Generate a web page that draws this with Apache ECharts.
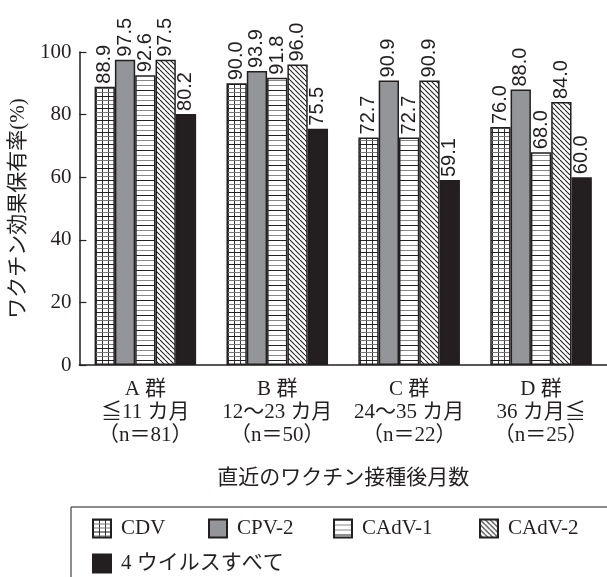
<!DOCTYPE html>
<html><head><meta charset="utf-8">
<script src="https://cdn.jsdelivr.net/npm/echarts@6/dist/echarts.min.js"></script>
<style>html,body{margin:0;padding:0;background:#fff}#c{width:607px;height:577px}</style>
</head><body><div id="c"></div>
<script>
const categories = ['A 群\n≦11 カ月\n（n＝81）','B 群\n12〜23 カ月\n（n＝50）','C 群\n24〜35 カ月\n（n＝22）','D 群\n36 カ月≦\n（n＝25）'];
const seriesNames = ['CDV','CPV-2','CAdV-1','CAdV-2','4 ウイルスすべて'];
const cdv = [88.9, 90.0, 72.7, 76.0];
const cpv2 = [97.5, 93.9, 90.9, 88.0];
const cadv1 = [92.6, 91.8, 72.7, 68.0];
const cadv2 = [97.5, 96.0, 90.9, 84.0];
const all4 = [80.2, 75.5, 59.1, 60.0];
const yTicks = [0, 20, 40, 60, 80, 100];

function pat(w, h, draw) {
  const c = document.createElement('canvas');
  c.width = w; c.height = h;
  const g = c.getContext('2d');
  g.fillStyle = '#fff'; g.fillRect(0, 0, w, h);
  draw(g);
  return { image: c, repeat: 'repeat' };
}
const gridPat = pat(6, 12, g => {
  g.fillStyle = '#333'; g.fillRect(0, 0, 1, 12);
  g.fillStyle = '#222'; g.fillRect(0, 0, 6, 1);
  g.fillStyle = '#777'; g.fillRect(0, 4, 6, 1); g.fillRect(0, 8, 6, 1);
});
const hPat = pat(4, 15, g => {
  g.fillStyle = '#222'; g.fillRect(0, 0, 4, 1);
  g.fillStyle = '#888'; g.fillRect(0, 5, 4, 1); g.fillRect(0, 10, 4, 1);
});
const dPat = pat(5, 5, g => {
  g.strokeStyle = '#222'; g.lineWidth = 1.1;
  for (const k of [-5, 0, 5]) { g.beginPath(); g.moveTo(k, 0); g.lineTo(k + 5, 5); g.stroke(); }
});
const fills = [gridPat, '#939598', hPat, dPat, '#231f20'];
const dataSets = [cdv, cpv2, cadv1, cadv2, all4];

const serif = '"Liberation Serif", "Noto Sans CJK JP", serif';
const chart = echarts.init(document.getElementById('c'), null, { renderer: 'canvas' });

const series = seriesNames.map((n, i) => ({
  name: n, type: 'bar', data: dataSets[i],
  barGap: '0%', barCategoryGap: '23%',
  itemStyle: { color: fills[i], borderColor: '#231f20', borderWidth: 1.5 },
  label: {
    show: true, position: 'top', rotate: 90, align: 'left', verticalAlign: 'middle', distance: 3,
    fontFamily: '"Liberation Sans", Arial, sans-serif', fontSize: 20, color: '#231f20',
    formatter: p => p.value.toFixed(1)
  },
  emphasis: { disabled: true }
}));

const legendLefts = [92, 208, 333, 479, 92];
const legendTops = [518, 518, 518, 518, 553];
const legends = seriesNames.map((n, i) => ({
  data: [n], left: legendLefts[i], top: legendTops[i], padding: 0,
  itemWidth: 18, itemHeight: 18, icon: 'rect',
  textStyle: { fontFamily: serif, fontSize: 21, color: '#231f20', padding: [0, 0, 0, 5] },
  selectedMode: false
}));

chart.setOption({
  animation: false,
  backgroundColor: '#fff',
  grid: { left: 71, right: 0, top: 52, bottom: 212 },
  legend: legends,
  xAxis: {
    type: 'category', data: categories,
    name: '直近のワクチン接種後月数', nameLocation: 'middle', nameGap: 103,
    nameTextStyle: { fontFamily: serif, fontSize: 21, color: '#231f20' },
    axisLine: { lineStyle: { color: '#231f20', width: 1.5 } },
    axisTick: { inside: true, length: 7, lineStyle: { color: '#231f20', width: 1.2 } },
    axisLabel: { interval: 0, fontFamily: serif, fontSize: 21, color: '#231f20', lineHeight: 23, margin: 13 }
  },
  yAxis: {
    type: 'value', min: 0, max: 100, interval: 20,
    name: 'ワクチン効果保有率(%)', nameLocation: 'middle', nameGap: 43, nameRotate: 90,
    nameTextStyle: { fontFamily: serif, fontSize: 21, color: '#231f20' },
    axisLine: { show: true, lineStyle: { color: '#231f20', width: 1.5 } },
    axisTick: { show: true, inside: true, length: 7, lineStyle: { color: '#231f20', width: 1.2 } },
    splitLine: { show: false },
    axisLabel: { fontFamily: serif, fontSize: 21, color: '#231f20', margin: 8 }
  },
  graphic: [
    { type: 'line', shape: { x1: 71, y1: 507, x2: 607, y2: 507 }, style: { stroke: '#666', lineWidth: 1.5 } },
    { type: 'line', shape: { x1: 71, y1: 507, x2: 71, y2: 577 }, style: { stroke: '#666', lineWidth: 1.5 } }
  ],
  series: series
});
</script>
</body></html>
